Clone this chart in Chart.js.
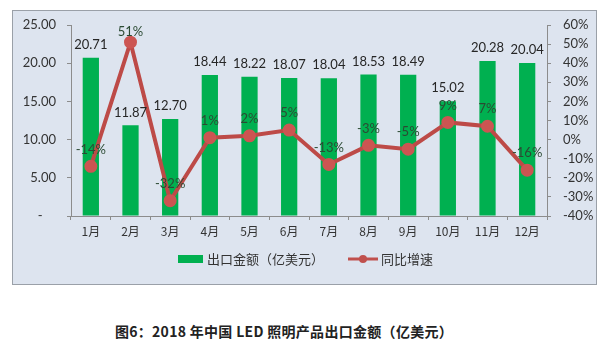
<!DOCTYPE html>
<html>
<head>
<meta charset="utf-8">
<script src="https://cdn.jsdelivr.net/npm/chart.js@4.4.1/dist/chart.umd.min.js"></script>
<style>
  html, body { margin: 0; padding: 0; background: #ffffff; width: 612px; height: 355px; overflow: hidden; }
  #frame { position: absolute; left: 12px; top: 10px; width: 583px; height: 273px; background: #dde4ef; border: 1px solid #9aa0a8; }
  #wrap { position: absolute; left: 0; top: 0; width: 583px; height: 273px; }
  #caption { position: absolute; left: 0; width: 568px; top: 321px; text-align: center; font-family: "Noto Sans CJK SC", sans-serif; font-weight: bold; font-size: 14px; color: #222; letter-spacing: 0.3px; }
</style>
</head>
<body>
<div id="frame"><div id="wrap"><canvas id="c" width="583" height="273"></canvas></div></div>
<div id="caption">图6：2018 年中国 LED 照明产品出口金额（亿美元）</div>
<script>
const months = ['1月','2月','3月','4月','5月','6月','7月','8月','9月','10月','11月','12月'];
const exportValues = [20.71, 11.87, 12.70, 18.44, 18.22, 18.07, 18.04, 18.53, 18.49, 15.02, 20.28, 20.04];
const growthRates = [-14, 51, -32, 1, 2, 5, -13, -3, -5, 9, 7, -16];
const barLabel = '出口金额（亿美元）';
const lineLabel = '同比增速';

const GREEN = '#00b050';
const RED = '#c0504d';
const NUM_FONT = '"Lato", "Open Sans", sans-serif';
const CJK_FONT = '"Noto Sans CJK SC", sans-serif';

const labelPlugin = {
  id: 'valueLabels',
  afterDatasetsDraw(chart) {
    const ctx = chart.ctx;
    const area = chart.chartArea;
    ctx.save();
    ctx.textAlign = 'center';
    ctx.textBaseline = 'middle';
    const barMeta = chart.getDatasetMeta(0);
    ctx.font = '13px ' + NUM_FONT;
    ctx.fillStyle = '#262626';
    barMeta.data.forEach((el, i) => {
      ctx.fillText(exportValues[i].toFixed(2), el.x, el.y - 13);
    });
    const lineMeta = chart.getDatasetMeta(1);
    ctx.fillStyle = '#2b4a33';
    lineMeta.data.forEach((el, i) => {
      const y = Math.max(el.y - 17, area.top + 7);
      ctx.fillText(growthRates[i] + '%', el.x, y);
    });
    ctx.restore();
  }
};

const legendPlugin = {
  id: 'customLegend',
  afterDraw(chart) {
    const ctx = chart.ctx;
    const y = 248;
    ctx.save();
    ctx.font = '13px ' + CJK_FONT;
    ctx.textBaseline = 'middle';
    ctx.fillStyle = GREEN;
    ctx.fillRect(165, y - 4, 25, 8);
    ctx.fillStyle = '#333';
    ctx.fillText(barLabel, 194, y);
    ctx.strokeStyle = RED;
    ctx.lineWidth = 3;
    ctx.beginPath();
    ctx.moveTo(335, y);
    ctx.lineTo(365, y);
    ctx.stroke();
    ctx.fillStyle = RED;
    ctx.beginPath();
    ctx.arc(350, y, 4, 0, Math.PI * 2);
    ctx.fill();
    ctx.fillStyle = '#333';
    ctx.fillText(lineLabel, 368, y);
    ctx.restore();
  }
};

new Chart(document.getElementById('c'), {
  type: 'bar',
  data: {
    labels: months,
    datasets: [
      {
        type: 'bar',
        label: barLabel,
        data: exportValues,
        yAxisID: 'y',
        backgroundColor: GREEN,
        borderWidth: 0,
        categoryPercentage: 1,
        barPercentage: 0.41,
        order: 1
      },
      {
        type: 'line',
        label: lineLabel,
        data: growthRates,
        yAxisID: 'y1',
        borderColor: '#bd4a47',
        backgroundColor: RED,
        borderWidth: 4,
        pointRadius: 4.5,
        pointBackgroundColor: '#cc5552',
        pointBorderColor: '#cc5552',
        tension: 0,
        order: 0
      }
    ]
  },
  options: {
    responsive: false,
    animation: false,
    devicePixelRatio: 1,
    layout: { padding: { top: 14, bottom: 40, left: 0, right: 0 } },
    plugins: { legend: { display: false }, tooltip: { enabled: false } },
    scales: {
      x: {
        grid: { display: true, drawOnChartArea: false, offset: true, tickLength: 4, color: '#8c8c8c' },
        border: { display: true, color: '#8c8c8c' },
        ticks: { font: { family: CJK_FONT, size: 12 }, color: '#333', padding: 4, autoSkip: false, maxRotation: 0 },
        afterFit(s) { s.height = 28; }
      },
      y: {
        position: 'left',
        min: 0, max: 25,
        ticks: { stepSize: 5, autoSkip: false, font: { family: NUM_FONT, size: 13 }, color: '#333', padding: 11,
          callback: v => v === 0 ? '-    ' : v.toFixed(2) },
        grid: { display: true, drawOnChartArea: false, tickLength: 4, color: '#8c8c8c' },
        border: { display: true, color: '#8c8c8c' },
        afterFit(s) { s.width = 58; s.paddingTop = 8; s.paddingBottom = 0; }
      },
      y1: {
        position: 'right',
        min: -40, max: 60,
        ticks: { stepSize: 10, autoSkip: false, font: { family: NUM_FONT, size: 13 }, color: '#333', padding: 12,
          callback: v => v + '%' },
        grid: { display: true, drawOnChartArea: false, tickLength: 4, color: '#8c8c8c' },
        border: { display: true, color: '#8c8c8c' },
        afterFit(s) { s.width = 49; s.paddingTop = 8; s.paddingBottom = 0; }
      }
    }
  },
  plugins: [labelPlugin, legendPlugin]
});
</script>
</body>
</html>
